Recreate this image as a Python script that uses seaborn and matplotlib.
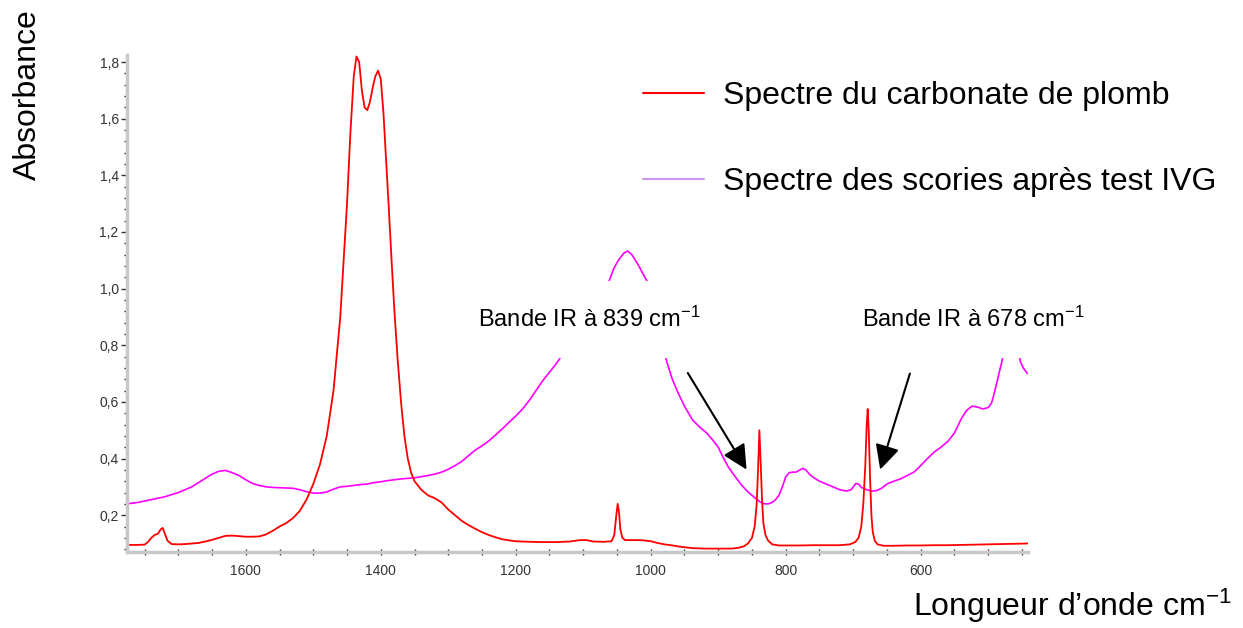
import numpy as np
import pandas as pd
import matplotlib
matplotlib.use("Agg")
import matplotlib.pyplot as plt
from matplotlib.ticker import MultipleLocator, FuncFormatter
from matplotlib.lines import Line2D
import seaborn as sns

# ---------------- data ----------------
red_wn = [1776, 1760, 1750, 1745, 1740, 1735, 1730, 1726, 1723, 1720, 1716, 1710, 1700, 1690,
          1680, 1670, 1660, 1650, 1640, 1630, 1620, 1610, 1600, 1590, 1580, 1570, 1560, 1550,
          1540, 1530, 1520, 1510, 1500, 1490, 1480, 1470, 1460, 1450, 1445, 1440, 1436, 1432,
          1428, 1424, 1420, 1416, 1412, 1408, 1404, 1400, 1396, 1392, 1388, 1384, 1380, 1375,
          1370, 1365, 1360, 1355, 1350, 1340, 1330, 1320, 1310, 1300, 1290, 1280, 1270, 1260,
          1250, 1240, 1230, 1220, 1210, 1200, 1180, 1160, 1140, 1120, 1105, 1095, 1085, 1070,
          1058, 1054, 1051, 1049, 1047, 1045, 1042, 1038, 1030, 1020, 1010, 1000, 990, 980,
          970, 960, 950, 940, 920, 900, 880, 870, 862, 856, 850, 846, 843, 841, 839, 837, 835,
          833, 830, 826, 820, 810, 800, 780, 760, 740, 720, 705, 697, 692, 688, 685, 682, 680,
          678.5, 677, 675, 673, 671, 668, 664, 655, 640, 620, 600, 580, 560, 540, 520, 500,
          480, 460, 442]
red_abs = [0.095, 0.095, 0.096, 0.105, 0.12, 0.13, 0.135, 0.15, 0.155, 0.135, 0.11, 0.098, 0.097, 0.098,
           0.10, 0.102, 0.107, 0.113, 0.12, 0.127, 0.128, 0.126, 0.124, 0.124, 0.125, 0.132, 0.145, 0.16,
           0.172, 0.19, 0.215, 0.255, 0.31, 0.38, 0.48, 0.64, 0.90, 1.30, 1.55, 1.75, 1.82, 1.80,
           1.70, 1.64, 1.63, 1.66, 1.71, 1.75, 1.77, 1.74, 1.62, 1.45, 1.28, 1.10, 0.93, 0.75,
           0.60, 0.48, 0.40, 0.35, 0.32, 0.29, 0.27, 0.26, 0.245, 0.22, 0.20, 0.18, 0.165, 0.152,
           0.14, 0.13, 0.122, 0.115, 0.111, 0.108, 0.106, 0.105, 0.105, 0.107, 0.112, 0.112, 0.107, 0.106,
           0.108, 0.13, 0.20, 0.24, 0.21, 0.15, 0.12, 0.112, 0.112, 0.112, 0.111, 0.108, 0.102, 0.097,
           0.094, 0.09, 0.087, 0.084, 0.082, 0.082, 0.082, 0.085, 0.09, 0.10, 0.12, 0.16, 0.24, 0.36, 0.50, 0.38, 0.25,
           0.17, 0.13, 0.11, 0.097, 0.093, 0.093, 0.093, 0.094, 0.094, 0.094, 0.097, 0.105, 0.12, 0.16, 0.24, 0.38, 0.52,
           0.575, 0.50, 0.33, 0.20, 0.14, 0.11, 0.097, 0.092, 0.092, 0.093, 0.093, 0.094, 0.094, 0.095, 0.096, 0.097,
           0.098, 0.099, 0.10]

mag_wn = [1776, 1760, 1740, 1720, 1700, 1690, 1680, 1670, 1660, 1650, 1640, 1630, 1620, 1610,
          1600, 1590, 1580, 1570, 1560, 1550, 1540, 1530, 1520, 1510, 1500, 1490, 1480, 1470,
          1460, 1450, 1440, 1430, 1420, 1410, 1400, 1390, 1380, 1370, 1360, 1350, 1340, 1330,
          1320, 1310, 1300, 1290, 1280, 1270, 1260, 1250, 1240, 1230, 1220, 1210, 1200, 1190,
          1180, 1170, 1160, 1150, 1140, 1130, 1120, 1110, 1100, 1090, 1080, 1070, 1062, 1055,
          1048, 1040, 1034, 1028, 1020, 1012, 1004, 996, 988, 982, 976, 968, 961, 950, 938,
          927, 917, 908, 900, 893, 885, 873, 865, 855, 845, 838, 832, 826, 820, 815, 810, 805,
          800, 795, 790, 785, 780, 775, 770, 765, 760, 750, 740, 730, 720, 710, 703, 696, 692,
          688, 680, 672, 665, 658, 650, 640, 630, 620, 610, 600, 590, 580, 570, 560, 550, 540,
          532, 524, 516, 508, 500, 495, 490, 486, 480, 475, 468, 462, 456, 452, 448, 442]
mag_abs = [0.24, 0.245, 0.255, 0.265, 0.28, 0.29, 0.30, 0.315, 0.33, 0.345, 0.355, 0.358, 0.35, 0.34,
           0.325, 0.312, 0.305, 0.30, 0.298, 0.297, 0.296, 0.295, 0.29, 0.283, 0.278, 0.278, 0.282, 0.292,
           0.30, 0.302, 0.305, 0.308, 0.31, 0.315, 0.318, 0.322, 0.325, 0.328, 0.33, 0.332, 0.336, 0.34,
           0.345, 0.352, 0.362, 0.375, 0.39, 0.41, 0.43, 0.445, 0.462, 0.483, 0.505, 0.528, 0.55, 0.575,
           0.605, 0.64, 0.675, 0.705, 0.735, 0.77, 0.81, 0.85, 0.89, 0.93, 0.97, 1.00, 1.025, 1.07,
           1.10, 1.125, 1.133, 1.12, 1.09, 1.055, 1.02, 0.96, 0.88, 0.80, 0.74, 0.68, 0.64, 0.585, 0.536,
           0.51, 0.49, 0.465, 0.44, 0.405, 0.37, 0.33, 0.305, 0.28, 0.26, 0.247, 0.24, 0.24, 0.245, 0.255, 0.27, 0.30,
           0.335, 0.35, 0.352, 0.352, 0.358, 0.365, 0.36, 0.345, 0.335, 0.32, 0.31, 0.30, 0.29, 0.285, 0.29, 0.312, 0.31,
           0.298, 0.29, 0.285, 0.287, 0.295, 0.31, 0.32, 0.328, 0.34, 0.352, 0.375, 0.40, 0.423, 0.44, 0.46, 0.49, 0.54,
           0.57, 0.585, 0.582, 0.575, 0.58, 0.596, 0.64, 0.68, 0.74, 0.80, 0.86, 0.86, 0.78, 0.74, 0.72, 0.70]

label_red = "Spectre du carbonate de plomb"
label_mag = "Spectre des scories après test IVG"
x_ticks = [1600, 1400, 1200, 1000, 800, 600]
y_ticks = [0.2, 0.4, 0.6, 0.8, 1.0, 1.2, 1.4, 1.6, 1.8]
band_labels = ["Bande IR à 839 cm$^{\\mathregular{-1}}$", "Bande IR à 678 cm$^{\\mathregular{-1}}$"]
band_text_pos = [(1256, 0.89), (687, 0.89)]
band_arrow_start = [(945, 0.702), (616, 0.700)]
band_arrow_tip = [(858, 0.361), (660, 0.361)]

# ---------------- style ----------------
sns.set_theme(style="white")
plt.rcParams["font.family"] = ["Liberation Sans", "DejaVu Sans"]
plt.rcParams["text.color"] = "black"
plt.rcParams["axes.labelcolor"] = "black"
plt.rcParams["mathtext.fontset"] = "custom"
plt.rcParams["mathtext.rm"] = "Liberation Sans"
plt.rcParams["mathtext.it"] = "Liberation Sans"
plt.rcParams["mathtext.bf"] = "Liberation Sans"

W, H = 1243, 628
fig = plt.figure(figsize=(W / 100, H / 100), dpi=100)
ax = fig.add_axes([127 / W, 1 - 552 / H, (1028 - 127) / W, (552 - 55) / H])

df_red = pd.DataFrame({"wn": red_wn, "abs": red_abs})
df_mag = pd.DataFrame({"wn": mag_wn, "abs": mag_abs})
sns.lineplot(data=df_mag, x="wn", y="abs", ax=ax, color="#ff00ff", lw=1.2, sort=False,
             estimator=None, label=label_mag)
sns.lineplot(data=df_red, x="wn", y="abs", ax=ax, color="#ff0000", lw=1.3, sort=False,
             estimator=None, label=label_red)

ax.set_xlim(1776, 441)
ax.set_ylim(0.07, 1.825)
ax.set_xticks(x_ticks)
ax.set_yticks(y_ticks)
ax.xaxis.set_minor_locator(MultipleLocator(50))
ax.yaxis.set_minor_locator(MultipleLocator(0.04))
ax.yaxis.set_major_formatter(FuncFormatter(lambda v, p: f"{v:.1f}".replace(".", ",")))

for s in ["top", "right"]:
    ax.spines[s].set_visible(False)
for s in ["left", "bottom"]:
    ax.spines[s].set_color("#c8c8c8")
    ax.spines[s].set_linewidth(2.5)

ax.tick_params(axis="y", which="major", direction="out", length=4, width=1, color="#333333",
               labelsize=10, labelcolor="#333333", pad=2, left=True)
ax.tick_params(axis="y", which="minor", direction="out", length=2, width=1, color="#333333", left=True)
ax.tick_params(axis="x", which="major", direction="inout", length=5, width=1, color="#333333",
               labelsize=10, labelcolor="#333333", pad=6, bottom=True)
ax.tick_params(axis="x", which="minor", direction="inout", length=4, width=1, color="#333333", bottom=True)

ax.set_xlabel("Longueur d’onde cm$^{\\mathregular{-1}}$", fontsize=23, color="black")
ax.xaxis.label.set_verticalalignment("center")
ax.xaxis.set_label_coords((1072 - 127) / 901, (552 - 606) / 497)
ax.set_ylabel("Absorbance", fontsize=23, color="black")
ax.yaxis.label.set_verticalalignment("center")
ax.yaxis.set_label_coords((28 - 127) / 901, (552 - 95) / 497)

# legend
handles = [Line2D([], [], color="#ff0000", lw=1.5), Line2D([], [], color="#cc99ee", lw=1.5)]
leg = ax.legend(handles, [label_red, label_mag], loc="upper left",
                bbox_to_anchor=(643 / W, 1 - 81 / H), bbox_transform=fig.transFigure,
                frameon=False, fontsize=23, handlelength=1.9, handletextpad=0.6,
                labelspacing=1.76, borderpad=0, borderaxespad=0)
for t in leg.get_texts():
    t.set_color("black")

# band annotations (white boxes hide the curve behind them, like the original)
for txt, (tx, ty) in zip(band_labels, band_text_pos):
    ax.text(tx, ty, txt, fontsize=17, ha="left", va="center", zorder=5, clip_on=False,
            color="black", bbox=dict(boxstyle="square,pad=1.1", fc="white", ec="none"))
for (sx, sy), (ex, ey) in zip(band_arrow_start, band_arrow_tip):
    ax.annotate("", xy=(ex, ey), xytext=(sx, sy), zorder=6,
                arrowprops=dict(arrowstyle="-|>,head_length=0.6,head_width=0.3", mutation_scale=25,
                                color="black", lw=1.5, shrinkA=0, shrinkB=0))

fig.savefig("out.png", dpi=100)
